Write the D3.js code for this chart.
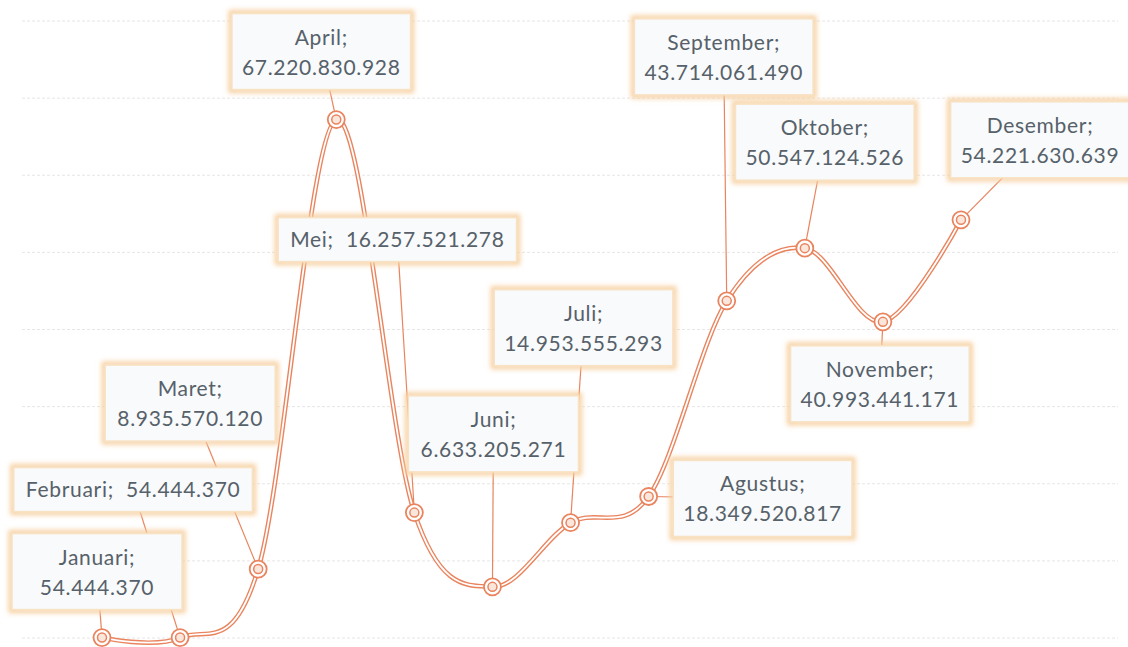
<!DOCTYPE html>
<html>
<head>
<meta charset="utf-8">
<script src="https://cdn.jsdelivr.net/npm/d3@7"></script>
<style>
    body { margin: 0; background: #fff; }
    svg { display: block; }
    .lbl text { font-family: Lato, "Open Sans", sans-serif; font-size: 21px; fill: #56616a; letter-spacing: 0.7px; }
</style>
</head>
<body>
<div id="chart"></div>
<script>
const months = ['Januari', 'Februari', 'Maret', 'April', 'Mei', 'Juni', 'Juli', 'Agustus', 'September', 'Oktober', 'November', 'Desember'];
const values = [54444370, 54444370, 8935570120, 67220830928, 16257521278, 6633205271, 14953555293, 18349520817, 43714061490, 50547124526, 40993441171, 54221630639];
const labelTexts = ['54.444.370', '54.444.370', '8.935.570.120', '67.220.830.928', '16.257.521.278', '6.633.205.271', '14.953.555.293', '18.349.520.817', '43.714.061.490', '50.547.124.526', '40.993.441.171', '54.221.630.639'];
const gridTicks = [0, 10e9, 20e9, 30e9, 40e9, 50e9, 60e9, 70e9, 80e9];

// label placement: offset of the label centre from its point, and single-line labels
const labelOffsets = [[-5, -66], [-47, -148], [-68, -166], [-15, -68], [-17, -273], [1, -153], [13, -195], [114, 2], [-3, -244], [20, -106], [-3, 62], [79, -80]];
const oneLine = ['Februari', 'Mei'];

const W = 1128, H = 647;
const orange = '#e9845e';

const svg = d3.select('#chart').append('svg')
    .attr('width', W)
    .attr('height', H);

const defs = svg.append('defs');
defs.append('filter')
    .attr('id', 'glow')
    .attr('x', '-20%').attr('y', '-40%').attr('width', '140%').attr('height', '180%')
    .append('feGaussianBlur')
    .attr('stdDeviation', 2.5);

const x = d3.scalePoint().domain(months).range([102, 961]);
const y = d3.scaleLinear().domain([0, 80e9]).range([638, 21]);

// gridlines
svg.append('g')
    .selectAll('line')
    .data(gridTicks)
    .enter()
    .append('line')
    .attr('x1', 22)
    .attr('x2', 1118)
    .attr('y1', d => y(d))
    .attr('y2', d => y(d))
    .attr('stroke', '#e6e6e6')
    .attr('stroke-width', 1)
    .attr('stroke-dasharray', '3,2');

const pts = months.map((m, i) => ({
    month: m,
    value: values[i],
    text: labelTexts[i],
    px: x(m),
    py: y(values[i]),
    lx: x(m) + labelOffsets[i][0],
    ly: y(values[i]) + labelOffsets[i][1],
    single: oneLine.includes(m)
}));

// leader lines
svg.append('g')
    .selectAll('line')
    .data(pts)
    .enter()
    .append('line')
    .attr('x1', d => d.lx)
    .attr('y1', d => d.ly)
    .attr('x2', d => d.px)
    .attr('y2', d => d.py)
    .attr('stroke', orange)
    .attr('stroke-width', 1.2);

// the double line
const line = d3.line()
    .x(d => d.px)
    .y(d => d.py)
    .curve(d3.curveCardinal.tension(0));

svg.append('path')
    .datum(pts)
    .attr('d', line)
    .attr('fill', 'none')
    .attr('stroke', orange)
    .attr('stroke-width', 4.6);

svg.append('path')
    .datum(pts)
    .attr('d', line)
    .attr('fill', 'none')
    .attr('stroke', '#fff')
    .attr('stroke-width', 1.8);

// markers
const mk = svg.append('g')
    .selectAll('g')
    .data(pts)
    .enter()
    .append('g')
    .attr('transform', d => `translate(${d.px},${d.py})`);

mk.append('circle')
    .attr('r', 8.5)
    .attr('fill', '#fff')
    .attr('stroke', orange)
    .attr('stroke-width', 1.8);

mk.append('circle')
    .attr('r', 4.5)
    .attr('fill', '#fbe6dc')
    .attr('stroke', orange)
    .attr('stroke-width', 1.5);

// labels
const lbl = svg.append('g')
    .selectAll('g')
    .data(pts)
    .enter()
    .append('g')
    .attr('class', 'lbl')
    .attr('transform', d => `translate(${d.lx},${d.ly})`);

lbl.each(function (d) {
    const g = d3.select(this);
    const glow = g.append('rect');
    const box = g.append('rect');
    const t = g.append('text').attr('text-anchor', 'middle');
    if (d.single) {
        t.append('tspan').attr('x', 0).attr('y', 7).text(d.month + ';\u00a0\u00a0' + d.text);
    } else {
        t.append('tspan').attr('x', 0).attr('y', -7).text(d.month + ';');
        t.append('tspan').attr('x', 0).attr('y', 23).text(d.text);
    }
    const bw = t.node().getBBox().width;
    const w = d.single ? bw + 24 : Math.max(bw + 20, 170);
    const h = d.single ? 44 : 76;
    glow.attr('x', -w / 2 - 1).attr('y', -h / 2 - 1)
        .attr('width', w + 2).attr('height', h + 2)
        .attr('fill', 'none')
        .attr('stroke', '#f6cf9e')
        .attr('stroke-width', 5)
        .attr('filter', 'url(#glow)');
    box.attr('x', -w / 2).attr('y', -h / 2)
        .attr('width', w).attr('height', h)
        .attr('fill', '#f9fafb')
        .attr('stroke', '#f8e2c4')
        .attr('stroke-width', 1.5);
});
</script>
</body>
</html>
